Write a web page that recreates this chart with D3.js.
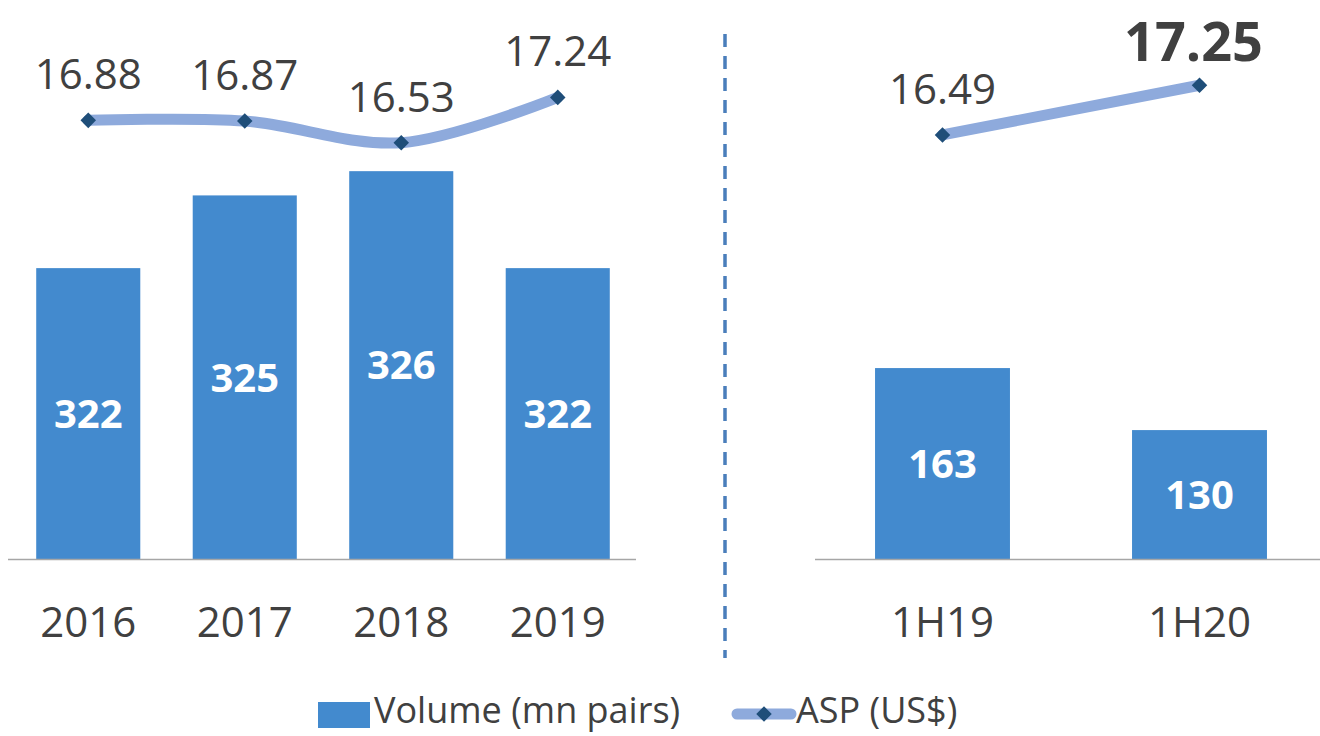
<!DOCTYPE html>
<html>
<head>
<meta charset="utf-8">
<script src="https://cdn.jsdelivr.net/npm/d3@7"></script>
<style>
    body { margin: 0; background: #fff; }
    svg { display: block; }
</style>
</head>
<body>
<div id="viz"></div>
<script>
    const annualCats = ["2016", "2017", "2018", "2019"];
    const annualVolume = [322, 325, 326, 322];
    const annualAsp = [16.88, 16.87, 16.53, 17.24];

    const halfCats = ["1H19", "1H20"];
    const halfVolume = [163, 130];
    const halfAsp = [16.49, 17.25];

    const legendItems = ["Volume (mn pairs)", "ASP (US$)"];

    const width = 1320;
    const height = 736;
    const baseY = 559;
    const topY = 33;

    const barColor = "#438ace";
    const lineColor = "#8eaadc";
    const markerColor = "#1f4e79";
    const textColor = "#404040";
    const font = "'Open Sans', sans-serif";
    const diamond = "M-5.5,-5.5H5.5V5.5H-5.5Z";

    const svg = d3.select("#viz")
        .append("svg")
        .attr("width", width)
        .attr("height", height)
        .style("font-family", font);

    //Draw one panel: bars + asp line
    function panel(opts) {
        const x = d3.scaleBand()
            .domain(opts.cats)
            .range(opts.xRange)
            .paddingInner(opts.padding)
            .paddingOuter(opts.padding / 2);

        const yBar = d3.scaleLinear().domain(opts.barDomain).range([baseY, topY]);
        const yLine = d3.scaleLinear().domain(opts.lineDomain).range([baseY, topY]);

        const g = svg.append("g");

        g.selectAll("rect.bar")
            .data(opts.volume)
            .join("rect")
            .attr("class", "bar")
            .attr("x", (d, i) => x(opts.cats[i]))
            .attr("width", x.bandwidth())
            .attr("y", d => yBar(d))
            .attr("height", d => baseY - yBar(d))
            .attr("fill", barColor);

        //baseline
        g.append("line")
            .attr("x1", opts.axisRange[0])
            .attr("x2", opts.axisRange[1])
            .attr("y1", baseY + 0.5)
            .attr("y2", baseY + 0.5)
            .attr("stroke", "#a6a6a6")
            .attr("stroke-width", 1.5);

        g.selectAll("text.vol")
            .data(opts.volume)
            .join("text")
            .attr("class", "vol")
            .attr("x", (d, i) => x(opts.cats[i]) + x.bandwidth() / 2)
            .attr("y", d => (yBar(d) + baseY) / 2)
            .attr("dy", "0.36em")
            .attr("text-anchor", "middle")
            .attr("fill", "#fff")
            .attr("font-weight", 700)
            .attr("font-size", 40)
            .text(d => d);

        g.selectAll("text.cat")
            .data(opts.cats)
            .join("text")
            .attr("class", "cat")
            .attr("x", d => x(d) + x.bandwidth() / 2)
            .attr("y", 622)
            .attr("dy", "0.36em")
            .attr("text-anchor", "middle")
            .attr("fill", textColor)
            .attr("font-size", 42)
            .text(d => d);

        const pts = opts.asp.map((v, i) => [x(opts.cats[i]) + x.bandwidth() / 2, yLine(v)]);

        g.append("path")
            .attr("d", d3.line().curve(opts.curve)(pts))
            .attr("fill", "none")
            .attr("stroke", lineColor)
            .attr("stroke-width", 11)
            .attr("stroke-linecap", "round");

        g.selectAll("path.marker")
            .data(pts)
            .join("path")
            .attr("class", "marker")
            .attr("transform", d => `translate(${d[0]},${d[1]}) rotate(45)`)
            .attr("d", diamond)
            .attr("fill", markerColor);

        const isBold = i => opts.boldLast && i === opts.asp.length - 1;

        g.selectAll("text.asp")
            .data(opts.asp)
            .join("text")
            .attr("class", "asp")
            .attr("x", (d, i) => pts[i][0] - (isBold(i) ? 6 : 0))
            .attr("y", (d, i) => pts[i][1] - (isBold(i) ? 24 : 31))
            .attr("text-anchor", "middle")
            .attr("fill", textColor)
            .attr("font-size", (d, i) => isBold(i) ? 54 : 42)
            .attr("font-weight", (d, i) => isBold(i) ? 700 : 400)
            .text(d => d.toFixed(2));
    }

    panel({
        cats: annualCats, volume: annualVolume, asp: annualAsp,
        xRange: [10, 636], axisRange: [8, 636], padding: 0.335,
        barDomain: [310, 331.7], lineDomain: [10, 18.25],
        curve: d3.curveCatmullRom, boldLast: false
    });

    panel({
        cats: halfCats, volume: halfVolume, asp: halfAsp,
        xRange: [814, 1328], axisRange: [815, 1320], padding: 0.475,
        barDomain: [61.4, 341.3], lineDomain: [10, 18.05],
        curve: d3.curveLinear, boldLast: true
    });

    //divider between annual and half-year panels
    svg.append("line")
        .attr("x1", 725).attr("x2", 725)
        .attr("y1", 34).attr("y2", 658)
        .attr("stroke", "#4a7ebb")
        .attr("stroke-width", 3.5)
        .attr("stroke-dasharray", "13 9");

    //legend
    const legend = svg.append("g").attr("transform", "translate(0,710)");
    legend.append("rect")
        .attr("x", 318).attr("y", -8)
        .attr("width", 52).attr("height", 26)
        .attr("fill", barColor);
    legend.append("text")
        .attr("x", 374).attr("dy", "0.36em")
        .attr("fill", textColor).attr("font-size", 36)
        .text(legendItems[0]);
    legend.append("line")
        .attr("x1", 737).attr("x2", 791)
        .attr("y1", 4).attr("y2", 4)
        .attr("stroke", lineColor).attr("stroke-width", 11)
        .attr("stroke-linecap", "round");
    legend.append("path")
        .attr("transform", "translate(764,4) rotate(45)")
        .attr("d", diamond)
        .attr("fill", markerColor);
    legend.append("text")
        .attr("x", 796).attr("dy", "0.36em")
        .attr("fill", textColor).attr("font-size", 36)
        .text(legendItems[1]);
</script>
</body>
</html>
